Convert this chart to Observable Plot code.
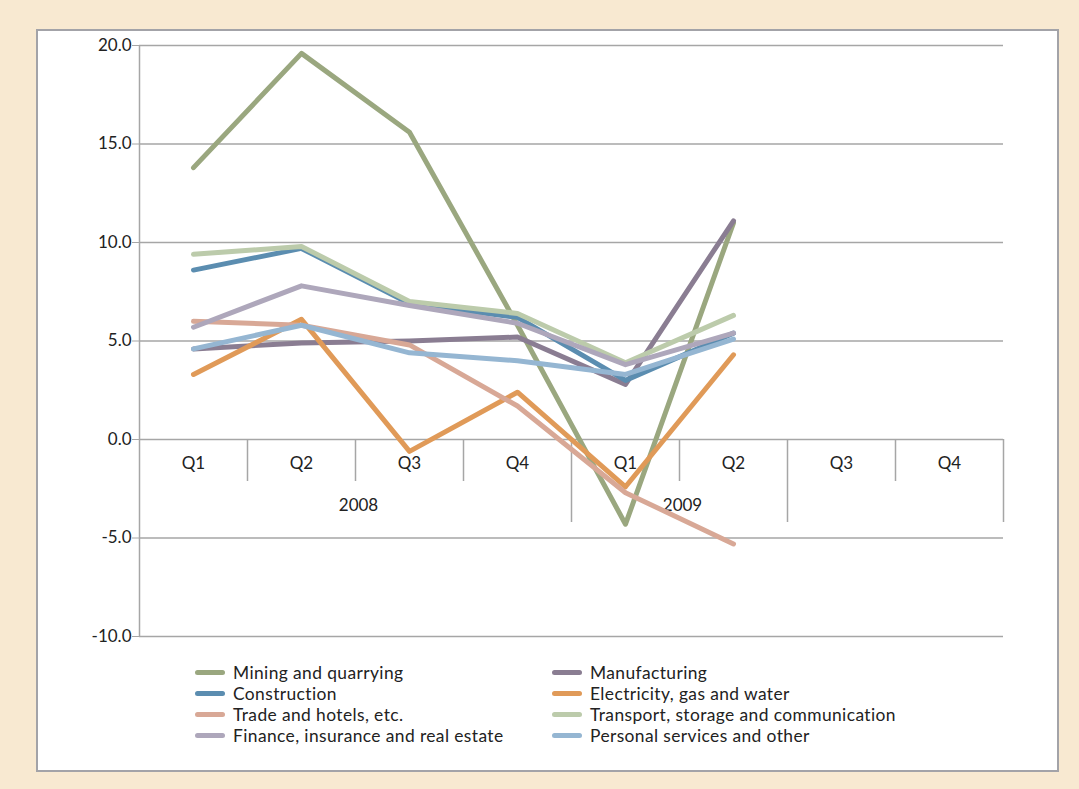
<!DOCTYPE html>
<html>
<head>
<meta charset="utf-8">
<script src="https://cdn.jsdelivr.net/npm/d3@7"></script>
<script src="https://cdn.jsdelivr.net/npm/@observablehq/plot@0.6"></script>
<style>
  html, body { margin: 0; padding: 0; }
  body {
    width: 1079px; height: 789px; position: relative; overflow: hidden;
    background: #f8e9d1;
    font-family: Lato, "Open Sans", sans-serif;
    color: #222;
  }
  #panel {
    position: absolute; left: 36px; top: 29px; width: 1023px; height: 743px;
    box-sizing: border-box; border: 2px solid #a3a3a8; background: #fff;
  }
  #chart { position: absolute; left: 0; top: 0; }
  #legend {
    position: absolute; left: 195px; top: 662px;
    display: grid; grid-template-columns: 357px 360px; row-gap: 0px;
    font-size: 17.4px; line-height: 21px; letter-spacing: 0.4px;
  }
  .item { display: flex; align-items: center; white-space: nowrap; height: 21px; }
  .item span { display: block; height: 21px; line-height: 21px; }
  .sw { width: 30px; height: 5px; border-radius: 3px; margin-right: 8px; flex: none; }
</style>
</head>
<body>
<div id="panel"></div>
<div id="chart"></div>
<div id="legend"></div>
<script>
// Quarterly growth by sector, 2008 Q1 – 2009 Q4 (%)
const quarters = ["Q1", "Q2", "Q3", "Q4", "Q1", "Q2", "Q3", "Q4"];
const years = [
  {label: "2008", first: 0, last: 3},
  {label: "2009", first: 4, last: 5},
  {label: "", first: 6, last: 7}
];
const yTicks = [-10, -5, 0, 5, 10, 15, 20];

const sectors = [
  "Mining and quarrying",
  "Manufacturing",
  "Construction",
  "Electricity, gas and water",
  "Trade and hotels, etc.",
  "Transport, storage and communication",
  "Finance, insurance and real estate",
  "Personal services and other"
];
const colors = ["#9aa77f", "#8a7d92", "#5b8db0", "#e09a58", "#d8a896", "#bccbab", "#aea7bb", "#95b6d2"];

// Values available for the first six quarters only
const mining        = [13.8, 19.6, 15.6, 5.8, -4.3, 11.0];
const manufacturing = [4.6, 4.9, 5.0, 5.2, 2.8, 11.1];
const construction  = [8.6, 9.7, 6.9, 6.2, 3.0, 5.4];
const electricity   = [3.3, 6.1, -0.6, 2.4, -2.4, 4.3];
const trade         = [6.0, 5.8, 4.8, 1.7, -2.7, -5.3];
const transport     = [9.4, 9.8, 7.0, 6.4, 3.9, 6.3];
const finance       = [5.7, 7.8, 6.8, 5.9, 3.8, 5.4];
const personal      = [4.6, 5.8, 4.4, 4.0, 3.3, 5.1];

const series = [mining, manufacturing, construction, electricity, trade, transport, finance, personal];
const rows = series.flatMap((vals, s) =>
  vals.map((v, i) => ({sector: sectors[s], i, value: v}))
);

// Category boundaries: short ticks inside a year, long ticks between years
const longBounds = years.map(g => g.last + 0.5);
const shortBounds = d3.range(quarters.length - 1)
  .map(i => i + 0.5)
  .filter(b => !longBounds.includes(b));

const font = "Lato, 'Open Sans', sans-serif";
const fs = 17;

const chart = Plot.plot({
  width: 1079,
  height: 660,
  marginLeft: 139,
  marginRight: 76,
  marginTop: 45,
  marginBottom: 24,
  style: {background: "transparent", fontFamily: font, fontSize: fs + "px", color: "#222"},
  x: {type: "linear", domain: [-0.5, quarters.length - 0.5], axis: null},
  y: {domain: [-10, 20], axis: null},
  color: {domain: sectors, range: colors},
  marks: [
    Plot.ruleY(yTicks, {stroke: "#a6a6a6", strokeWidth: 1.5}),
    Plot.ruleX([-0.5], {stroke: "#a6a6a6", strokeWidth: 1.5}),
    Plot.axisY({
      ticks: yTicks, tickFormat: d => d.toFixed(1), tickSize: 7, tickPadding: 1,
      stroke: "#a6a6a6", fontSize: fs, fill: "#222", label: null
    }),
    Plot.ruleX(shortBounds, {y1: 0, y2: 0, insetBottom: -42, stroke: "#a6a6a6", strokeWidth: 1.5}),
    Plot.ruleX(longBounds, {y1: 0, y2: 0, insetBottom: -83, stroke: "#a6a6a6", strokeWidth: 1.5}),
    Plot.text(quarters, {x: (d, i) => i, y: 0, text: d => d, dy: 24, fontSize: fs, fill: "#222"}),
    Plot.text(years, {x: d => (d.first + d.last) / 2, y: 0, text: "label", dx: 3, dy: 66, fontSize: fs, fill: "#222"}),
    Plot.line(rows, {
      x: "i", y: "value", z: "sector", stroke: "sector",
      strokeWidth: 5, strokeLinecap: "round", strokeLinejoin: "round"
    })
  ]
});
document.getElementById("chart").append(chart);

const legend = d3.select("#legend");
sectors.forEach((s, k) => {
  const it = legend.append("div").attr("class", "item");
  it.append("div").attr("class", "sw").style("background", colors[k]);
  it.append("span").text(s);
});
</script>
</body>
</html>
